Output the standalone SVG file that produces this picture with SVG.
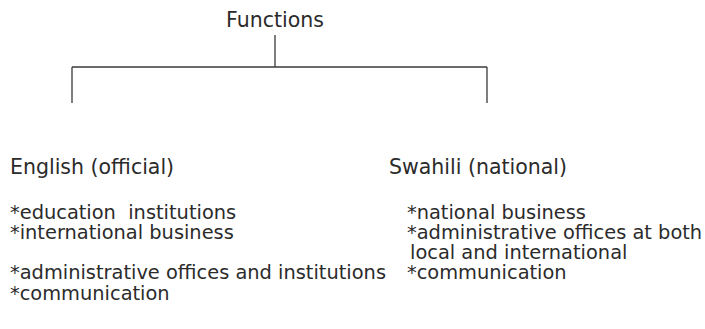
<svg xmlns="http://www.w3.org/2000/svg" width="705" height="329" viewBox="0 0 705 329">
<style>
text{font-family:"DejaVu Sans","Noto Sans",sans-serif;fill:#2b2b2b}
.h{font-size:20.5px}
.l{font-size:19.4px}
.c line{stroke:#3a3a3a;stroke-width:1.3;fill:none}
</style>
<rect width="705" height="329" fill="#ffffff"/>
<g id="connectors" class="c">
<line x1="275" y1="35" x2="275" y2="67"/>
<line x1="72" y1="67" x2="487" y2="67"/>
<line x1="72" y1="67" x2="72" y2="103"/>
<line x1="487" y1="67" x2="487" y2="103"/>
</g>
<g id="functions"><text class="h" x="275" y="27" text-anchor="middle">Functions</text></g>
<g id="english">
<text class="h" x="10" y="174">English (official)</text>
<text class="l" x="10" y="219" xml:space="preserve">*education  institutions</text>
<text class="l" x="10" y="239">*international business</text>
<text class="l" x="10" y="279">*administrative offices and institutions</text>
<text class="l" x="10" y="300">*communication</text>
</g>
<g id="swahili">
<text class="h" x="389" y="174">Swahili (national)</text>
<text class="l" x="407" y="219">*national business</text>
<text class="l" x="407" y="239">*administrative offices at both</text>
<text class="l" x="410" y="259">local and international</text>
<text class="l" x="407" y="279">*communication</text>
</g>
</svg>
